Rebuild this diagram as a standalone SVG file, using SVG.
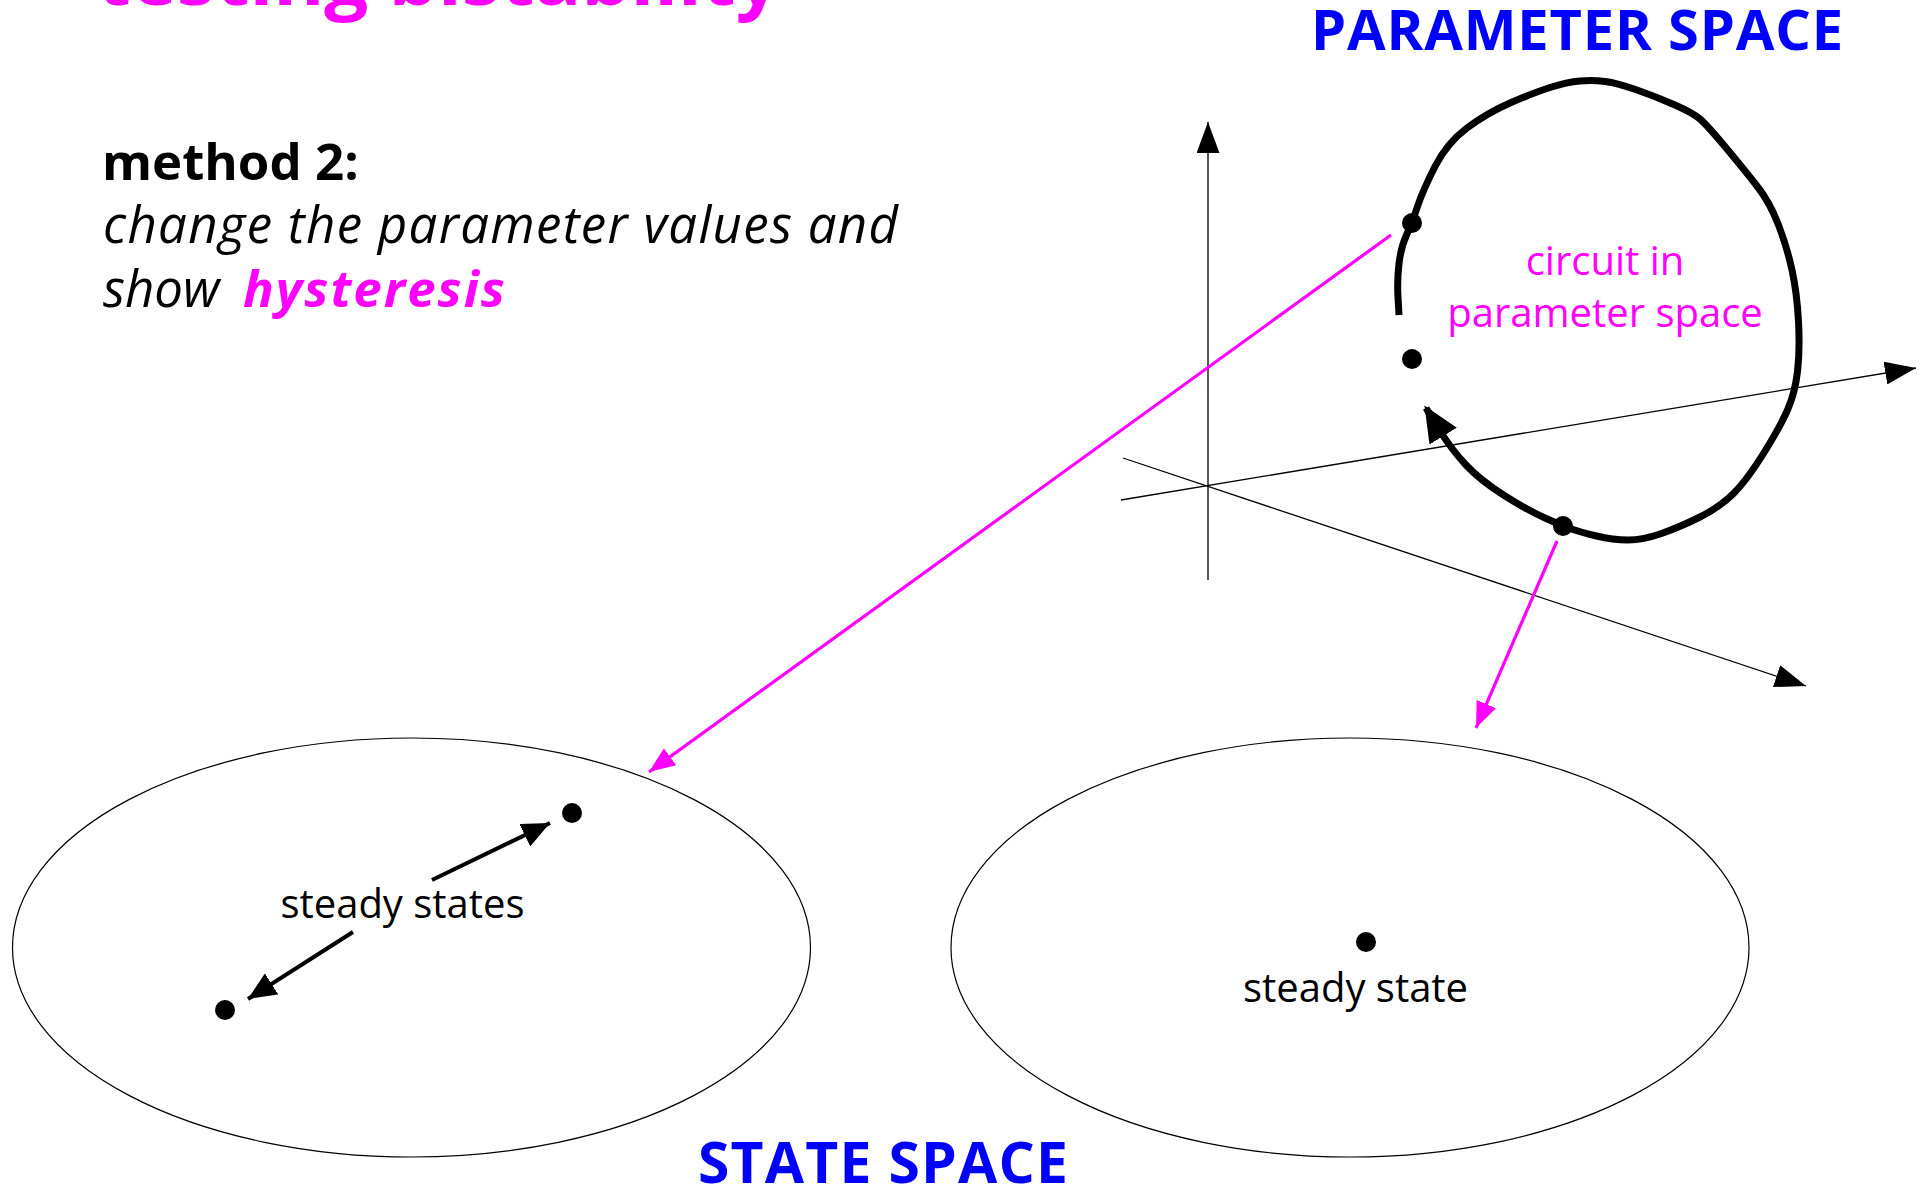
<svg xmlns="http://www.w3.org/2000/svg" width="1926" height="1190" viewBox="0 0 1926 1190">
<style>
  text { font-family: "Open Sans", "Noto Sans", "DejaVu Sans", sans-serif; }
  .title { font-size: 75px; font-weight: bold; fill: #ff00ff; }
  .head { font-weight: bold; fill: #0000ff; }
  .body { font-size: 51px; fill: #000000; }
  .lbl { font-size: 40px; fill: #000000; }
  .mlbl { font-size: 40px; fill: #ff00ff; }
  .axis { stroke: #000; stroke-width: 1.3; fill: none; }
  .space { stroke: #000; stroke-width: 1.2; fill: none; }
  .mag { stroke: #ff00ff; stroke-width: 3.2; fill: none; }
  .blk { stroke: #000; stroke-width: 4; fill: none; }
  .circuit { stroke: #000; stroke-width: 7; fill: none; stroke-linejoin: round; stroke-linecap: butt; }
  .dot { fill: #000; }
</style>
<defs>
  <marker id="axArrow" markerUnits="userSpaceOnUse" markerWidth="31" markerHeight="23" viewBox="0 0 31 23" refX="31" refY="11.5" orient="auto">
    <path d="M0,0 L31,11.5 L0,23 Z" fill="#000"/>
  </marker>
  <marker id="magArrow" markerUnits="userSpaceOnUse" markerWidth="26" markerHeight="21" viewBox="0 0 26 21" refX="26" refY="10.5" orient="auto">
    <path d="M0,0 L26,10.5 L0,21 Z" fill="#ff00ff"/>
  </marker>
  <marker id="blkArrow" markerUnits="userSpaceOnUse" markerWidth="28" markerHeight="25" viewBox="0 0 28 25" refX="28" refY="12.5" orient="auto">
    <path d="M0,0 L28,12.5 L0,25 Z" fill="#000"/>
  </marker>
  <marker id="circArrow" markerUnits="userSpaceOnUse" markerWidth="36" markerHeight="32" viewBox="0 0 36 32" refX="33" refY="16" orient="auto">
    <path d="M0,0 L36,16 L0,32 Z" fill="#000"/>
  </marker>
</defs>

<g id="title">
  <text class="title" x="97" y="5" textLength="683" lengthAdjust="spacingAndGlyphs">testing bistability</text>
</g>

<g id="method-text">
  <text class="body" x="102" y="180" font-weight="bold">method 2:</text>
  <text class="body" x="103" y="243" font-style="italic" textLength="795" lengthAdjust="spacing">change the parameter values and</text>
  <text class="body" x="103" y="307" font-style="italic">show<tspan x="243" fill="#ff00ff" font-weight="bold" textLength="262" lengthAdjust="spacing">hysteresis</tspan></text>
</g>

<g id="parameter-space-label">
  <text class="head" x="1311" y="50" font-size="56" textLength="532" lengthAdjust="spacing">PARAMETER SPACE</text>
</g>

<g id="parameter-axes">
  <line class="axis" x1="1208" y1="580" x2="1208" y2="122" marker-end="url(#axArrow)"/>
  <line class="axis" x1="1121" y1="500" x2="1916" y2="368" marker-end="url(#axArrow)"/>
  <line class="axis" x1="1123" y1="458" x2="1806" y2="686" marker-end="url(#axArrow)"/>
</g>

<g id="circuit">
  <path class="circuit" marker-end="url(#circArrow)" d="M1399,315 L1398,297.5 Q1397,280 1399,263.5 Q1401,247 1406.5,235 Q1412,223 1417.5,206.5 Q1423,190 1435,166.5 Q1447,143 1467,128 Q1487,113 1510,103 Q1533,93 1550,87.5 Q1567,82 1580,81 Q1593,80 1605,81.5 Q1617,83 1637,90 Q1657,97 1675,105 Q1693,113 1700,119 Q1707,125 1727,149 Q1747,173 1758.5,188 Q1770,203 1778.5,225 Q1787,247 1792,270 Q1797,293 1798.5,321.5 Q1800,350 1797.5,371.5 Q1795,393 1787.5,410 Q1780,427 1763.5,453.5 Q1747,480 1733.5,493.5 Q1720,507 1700,517 Q1680,527 1661.5,533.5 Q1643,540 1628,540 Q1613,540 1596.5,536 Q1580,532 1571.5,529 Q1563,526 1545,518 Q1527,510 1503.5,495 Q1480,480 1466,465 Q1452,450 1440,431 L1426,408"/>
  <circle class="dot" cx="1412" cy="223" r="10"/>
  <circle class="dot" cx="1412" cy="359" r="10"/>
  <circle class="dot" cx="1563" cy="526" r="10"/>
  <text class="mlbl" x="1605" y="275" text-anchor="middle">circuit in</text>
  <text class="mlbl" x="1605" y="327" text-anchor="middle">parameter space</text>
</g>

<g id="state-space-bistable">
  <ellipse class="space" cx="411.5" cy="947.5" rx="399" ry="209.5"/>
  <circle class="dot" cx="572" cy="813" r="10"/>
  <circle class="dot" cx="225" cy="1010" r="10"/>
  <text class="lbl" x="402.5" y="918" text-anchor="middle">steady states</text>
  <line class="blk" x1="432" y1="880" x2="550" y2="823" marker-end="url(#blkArrow)"/>
  <line class="blk" x1="353" y1="932" x2="248" y2="999" marker-end="url(#blkArrow)"/>
</g>

<g id="state-space-monostable">
  <ellipse class="space" cx="1350" cy="947.5" rx="399" ry="209.5"/>
  <circle class="dot" cx="1366" cy="942" r="10"/>
  <text class="lbl" x="1355.5" y="1002" text-anchor="middle">steady state</text>
</g>

<g id="state-space-label">
  <text class="head" x="698" y="1183" font-size="57" textLength="370" lengthAdjust="spacing">STATE SPACE</text>
</g>

<g id="connectors">
  <line class="mag" x1="1391" y1="235" x2="649" y2="772" marker-end="url(#magArrow)"/>
  <line class="mag" x1="1557" y1="541" x2="1476" y2="728" marker-end="url(#magArrow)"/>
</g>
</svg>
